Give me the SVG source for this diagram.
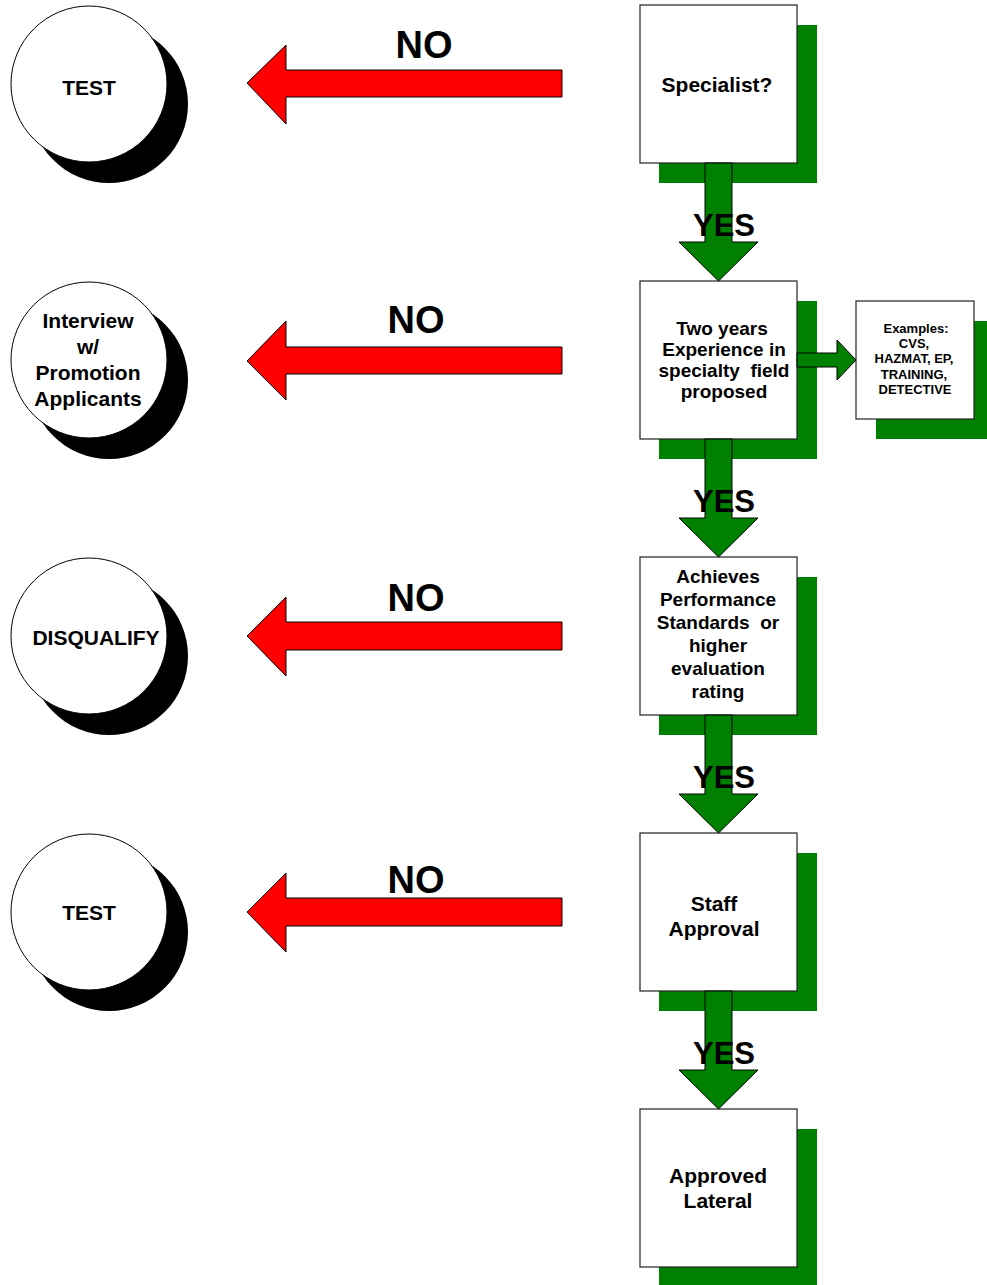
<svg xmlns="http://www.w3.org/2000/svg" width="987" height="1285" viewBox="0 0 987 1285">
<style>
.bg{fill:#ffffff}
.box{fill:#ffffff;stroke:#222;stroke-width:1.2}
.sh{fill:#008000}
.circ{fill:#ffffff;stroke:#000;stroke-width:1}
.csh{fill:#000}
.garrow{fill:#008000;stroke:#000;stroke-width:1}
.rarrow{fill:#ff0000;stroke:#000;stroke-width:1}
text{font-family:"Liberation Sans",Arial,sans-serif;font-weight:bold;fill:#000;text-anchor:middle}
.t21{font-size:21px}
.t19{font-size:19px}
.t13{font-size:13px}
.big{font-size:38px}
.yes{font-size:31px}
</style>
<rect class="bg" x="0" y="0" width="987" height="1285"/>

<g id="circle-test1">
<circle class="csh" cx="109" cy="104" r="79"/>
<circle class="circ" cx="89" cy="84" r="78"/>
<text class="t21" x="89" y="95">TEST</text>
</g>
<g id="circle-interview">
<circle class="csh" cx="109" cy="380" r="79"/>
<circle class="circ" cx="89" cy="360" r="78"/>
<text class="t21" x="88" y="328">Interview</text>
<text class="t21" x="88" y="354">w/</text>
<text class="t21" x="88" y="380">Promotion</text>
<text class="t21" x="88" y="406">Applicants</text>
</g>
<g id="circle-disqualify">
<circle class="csh" cx="109" cy="656" r="79"/>
<circle class="circ" cx="89" cy="636" r="78"/>
<text class="t21" x="96" y="645">DISQUALIFY</text>
</g>
<g id="circle-test2">
<circle class="csh" cx="109" cy="932" r="79"/>
<circle class="circ" cx="89" cy="912" r="78"/>
<text class="t21" x="89" y="920">TEST</text>
</g>

<g id="box-specialist">
<rect class="sh" x="659" y="25" width="158" height="158"/>
<rect class="box" x="640" y="5" width="157" height="158"/>
<text class="t21" x="717" y="92">Specialist?</text>
</g>
<g id="box-twoyears">
<rect class="sh" x="659" y="301" width="158" height="158"/>
<rect class="box" x="640" y="281" width="157" height="158"/>
<text class="t19" x="722" y="335">Two years</text>
<text class="t19" x="724" y="356">Experience in</text>
<text class="t19" x="724" y="377" xml:space="preserve">specialty  field</text>
<text class="t19" x="724" y="398">proposed</text>
</g>
<g id="box-examples">
<rect class="sh" x="876" y="321" width="118" height="118"/>
<rect class="box" x="856" y="301" width="118" height="118"/>
<text class="t13" x="916" y="333">Examples:</text>
<text class="t13" x="914" y="348">CVS,</text>
<text class="t13" x="914" y="363">HAZMAT, EP,</text>
<text class="t13" x="914" y="379">TRAINING,</text>
<text class="t13" x="915" y="394">DETECTIVE</text>
</g>
<g id="box-achieves">
<rect class="sh" x="659" y="577" width="158" height="158"/>
<rect class="box" x="640" y="557" width="157" height="158"/>
<text class="t19" x="718" y="583">Achieves</text>
<text class="t19" x="718" y="606">Performance</text>
<text class="t19" x="718" y="629" xml:space="preserve">Standards  or</text>
<text class="t19" x="718" y="652">higher</text>
<text class="t19" x="718" y="675">evaluation</text>
<text class="t19" x="718" y="698">rating</text>
</g>
<g id="box-staff">
<rect class="sh" x="659" y="853" width="158" height="158"/>
<rect class="box" x="640" y="833" width="157" height="158"/>
<text class="t21" x="714" y="911">Staff</text>
<text class="t21" x="714" y="936">Approval</text>
</g>
<g id="box-approved">
<rect class="sh" x="659" y="1129" width="158" height="158"/>
<rect class="box" x="640" y="1109" width="157" height="158"/>
<text class="t21" x="718" y="1183">Approved</text>
<text class="t21" x="718" y="1208">Lateral</text>
</g>

<g id="connectors">
<polygon class="garrow" points="705,163 732,163 732,242 758,242 718.5,281 679,242 705,242"/>
<polygon class="garrow" points="705,439 732,439 732,518 758,518 718.5,557 679,518 705,518"/>
<polygon class="garrow" points="705,715 732,715 732,794 758,794 718.5,833 679,794 705,794"/>
<polygon class="garrow" points="705,991 732,991 732,1070 758,1070 718.5,1109 679,1070 705,1070"/>
<polygon class="garrow" points="797,353 837,353 837,340 856,360 837,380 837,367 797,367"/>
<text class="yes" x="724" y="236">YES</text>
<text class="yes" x="724" y="512">YES</text>
<text class="yes" x="724" y="788">YES</text>
<text class="yes" x="724" y="1064">YES</text>

<polygon class="rarrow" points="562,70 286,70 286,45 247,83 286,124 286,97 562,97"/>
<polygon class="rarrow" points="562,347 286,347 286,321 247,361 286,400 286,374 562,374"/>
<polygon class="rarrow" points="562,622 286,622 286,597 247,636 286,676 286,650 562,650"/>
<polygon class="rarrow" points="562,898 286,898 286,873 247,912 286,952 286,926 562,926"/>
<text class="big" x="424" y="58">NO</text>
<text class="big" x="416" y="333">NO</text>
<text class="big" x="416" y="611">NO</text>
<text class="big" x="416" y="893">NO</text>
</g>
</svg>
